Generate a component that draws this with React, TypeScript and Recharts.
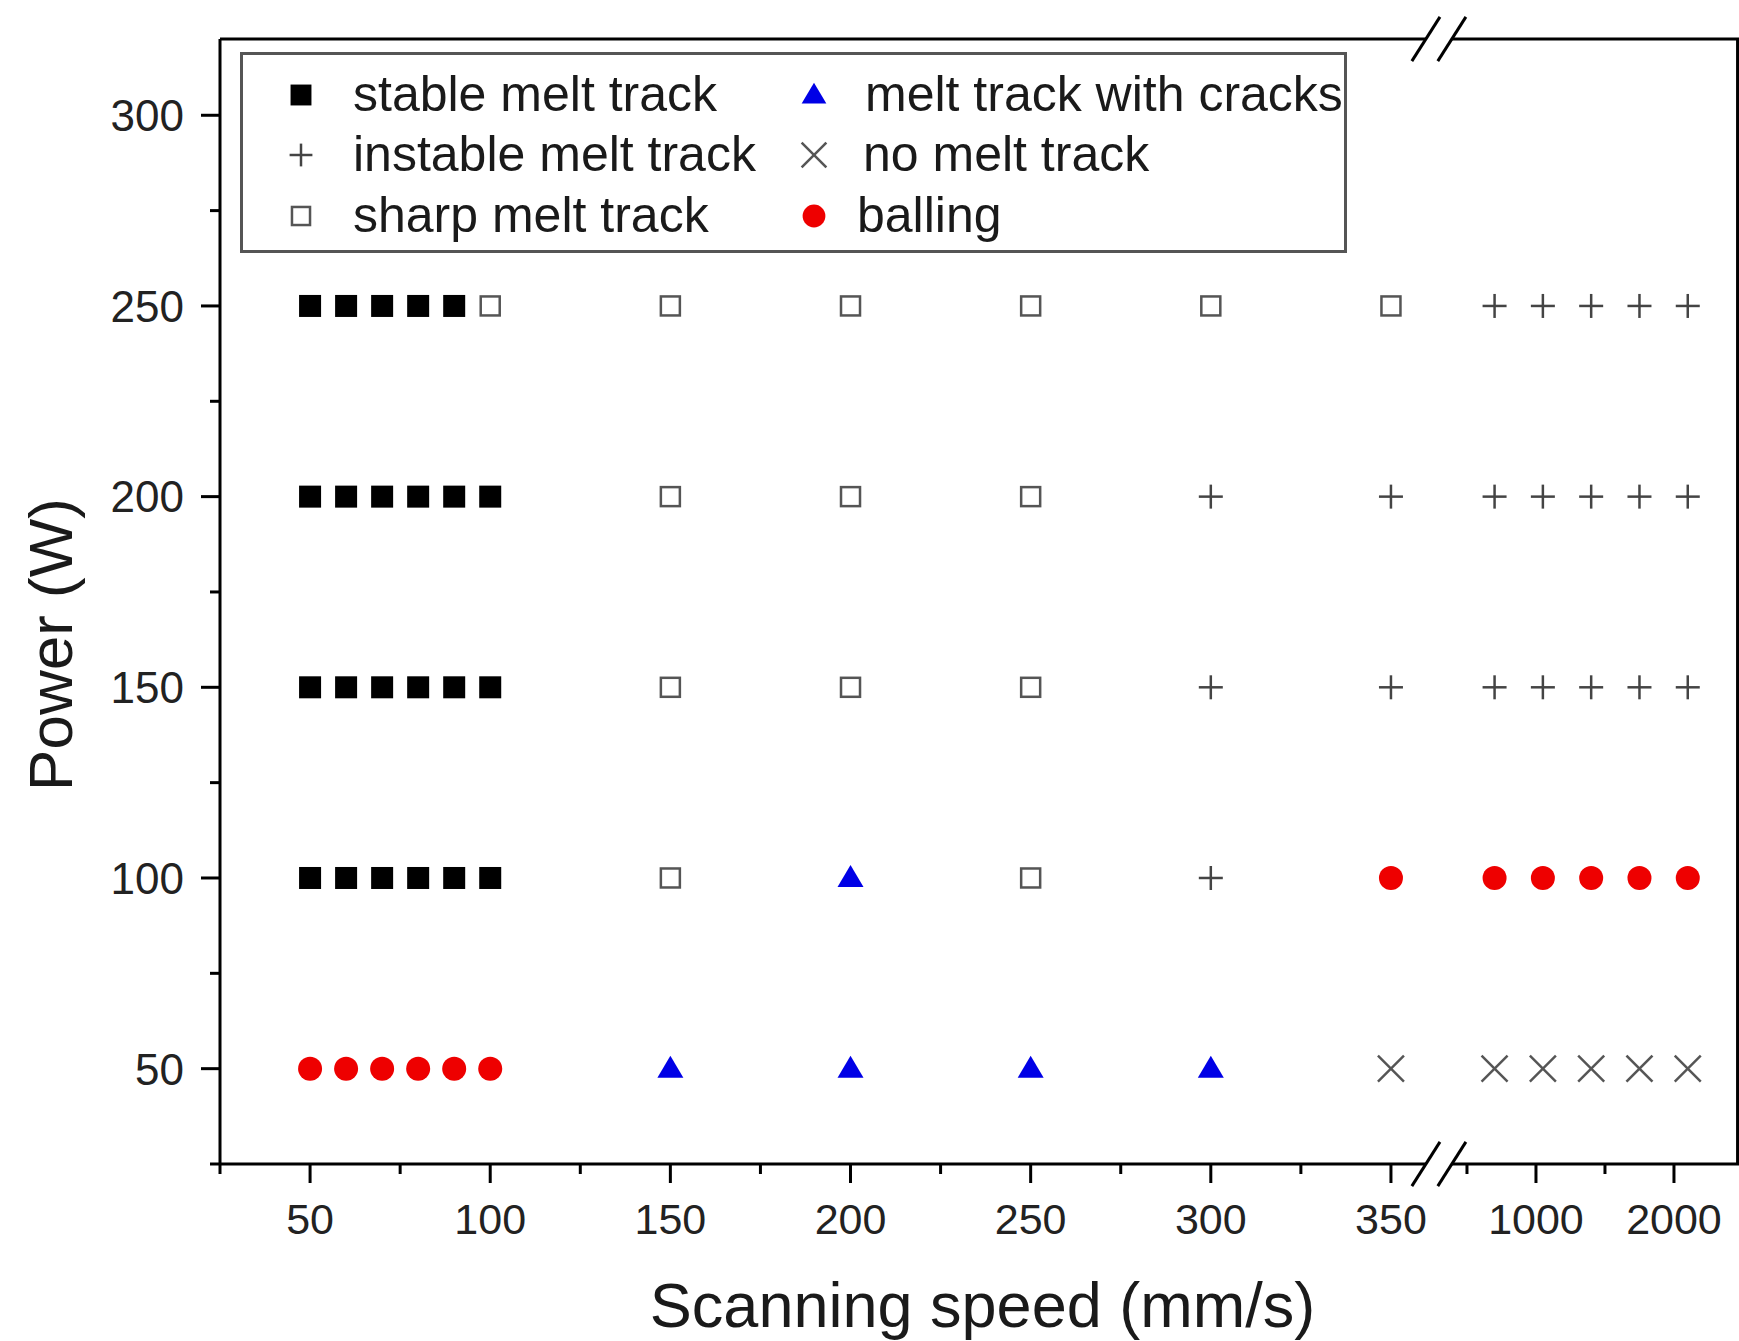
import React from 'react';
import { ScatterChart, Scatter, XAxis, YAxis, Legend, ReferenceLine } from 'recharts';

const FONT = '"Liberation Sans", Arial, Helvetica, sans-serif';

// x axis is broken: values up to 360 are linear, values past the break are squeezed
const BREAK_LOW = 359.7;
const BREAK_HIGH = 366.9;
const SEG2_ANCHOR = 1000;
const SEG2_POS = 390.25;
const SEG2_RATIO = 0.0383;
const toPos = (v: number) => (v <= 360 ? v : SEG2_POS + (v - SEG2_ANCHOR) * SEG2_RATIO);

const X_MIN = 25;
const X_MAX = 446.6;
const Y_MIN = 25;
const Y_MAX = 320;

const xMajor = [50, 100, 150, 200, 250, 300, 350, 1000, 2000];
const xMinor = [25, 75, 125, 175, 225, 275, 325, 500, 1500];
const yMajor = [50, 100, 150, 200, 250, 300];
const yMinor = [25, 75, 125, 175, 225, 275];

// [speed (mm/s), power (W)]
const stableTrack = [
    [50, 250], [60, 250], [70, 250], [80, 250], [90, 250],
    [50, 200], [60, 200], [70, 200], [80, 200], [90, 200], [100, 200],
    [50, 150], [60, 150], [70, 150], [80, 150], [90, 150], [100, 150],
    [50, 100], [60, 100], [70, 100], [80, 100], [90, 100], [100, 100],
];
const instableTrack = [
    [700, 250], [1050, 250], [1400, 250], [1750, 250], [2100, 250],
    [300, 200], [350, 200], [700, 200], [1050, 200], [1400, 200], [1750, 200], [2100, 200],
    [300, 150], [350, 150], [700, 150], [1050, 150], [1400, 150], [1750, 150], [2100, 150],
    [300, 100],
];
const sharpTrack = [
    [100, 250], [150, 250], [200, 250], [250, 250], [300, 250], [350, 250],
    [150, 200], [200, 200], [250, 200],
    [150, 150], [200, 150], [250, 150],
    [150, 100], [250, 100],
];
const crackedTrack = [
    [200, 100],
    [150, 50], [200, 50], [250, 50], [300, 50],
];
const noTrack = [
    [350, 50], [700, 50], [1050, 50], [1400, 50], [1750, 50], [2100, 50],
];
const balling = [
    [350, 100], [700, 100], [1050, 100], [1400, 100], [1750, 100], [2100, 100],
    [50, 50], [60, 50], [70, 50], [80, 50], [90, 50], [100, 50],
];

const toPoints = (list: number[][]) => list.map(([speed, power]) => ({ speed, power, pos: toPos(speed) }));

type Kind = 'filledSquare' | 'plus' | 'openSquare' | 'triangle' | 'cross' | 'circle';

const series: { name: string; kind: Kind; data: number[][] }[] = [
    { name: 'stable melt track', kind: 'filledSquare', data: stableTrack },
    { name: 'instable melt track', kind: 'plus', data: instableTrack },
    { name: 'sharp melt track', kind: 'openSquare', data: sharpTrack },
    { name: 'melt track with cracks', kind: 'triangle', data: crackedTrack },
    { name: 'no melt track', kind: 'cross', data: noTrack },
    { name: 'balling', kind: 'circle', data: balling },
];

function Marker({ kind, cx, cy, s = 1 }: { kind: Kind; cx: number; cy: number; s?: number }) {
    switch (kind) {
        case 'filledSquare':
            return <rect x={cx - 11 * s} y={cy - 11 * s} width={22 * s} height={22 * s} fill="#000" />;
        case 'openSquare':
            return <rect x={cx - 9.5 * s} y={cy - 9.5 * s} width={19 * s} height={19 * s} fill="#fff" stroke="#555" strokeWidth={2.5} />;
        case 'plus':
            return (
                <g stroke="#444" strokeWidth={2.5}>
                    <line x1={cx - 12 * s} x2={cx + 12 * s} y1={cy} y2={cy} />
                    <line x1={cx} x2={cx} y1={cy - 12 * s} y2={cy + 12 * s} />
                </g>
            );
        case 'cross':
            return (
                <g stroke="#555" strokeWidth={2.5}>
                    <line x1={cx - 13 * s} x2={cx + 13 * s} y1={cy - 13 * s} y2={cy + 13 * s} />
                    <line x1={cx - 13 * s} x2={cx + 13 * s} y1={cy + 13 * s} y2={cy - 13 * s} />
                </g>
            );
        case 'triangle':
            return <polygon points={`${cx},${cy - 13 * s} ${cx + 13 * s},${cy + 9 * s} ${cx - 13 * s},${cy + 9 * s}`} fill="#0000e6" />;
        case 'circle':
            return <circle cx={cx} cy={cy} r={12 * s} fill="#ee0000" />;
    }
    return null;
}

function XTick({ x, y, payload }: any) {
    const v = payload.value as number;
    const raw = xMajor.find((m) => Math.abs(toPos(m) - v) < 0.01);
    const len = raw !== undefined ? 19 : 10;
    return (
        <g>
            <line x1={x} x2={x} y1={y} y2={y + len} stroke="#000" strokeWidth={3} />
            {raw !== undefined && (
                <text x={x} y={y + 70} textAnchor="middle" fontSize={43} fill="#222" fontFamily={FONT}>
                    {raw}
                </text>
            )}
        </g>
    );
}

function YTick({ x, y, payload }: any) {
    const v = payload.value as number;
    const major = yMajor.includes(v);
    const len = major ? 19 : 10;
    return (
        <g>
            <line x1={x - len} x2={x} y1={y} y2={y} stroke="#000" strokeWidth={3} />
            {major && (
                <text x={x - 36} y={y} dy="0.36em" textAnchor="end" fontSize={44} fill="#222" fontFamily={FONT}>
                    {v}
                </text>
            )}
        </g>
    );
}

// two columns of three, in series order
const legendSlots = [
    { sx: 58, tx: 110, cy: 40 },
    { sx: 58, tx: 110, cy: 100 },
    { sx: 58, tx: 110, cy: 161 },
    { sx: 571, tx: 622, cy: 40 },
    { sx: 571, tx: 620, cy: 100 },
    { sx: 571, tx: 614, cy: 161 },
];

function LegendBox({ payload }: any) {
    const items = (payload || []) as { value: string }[];
    return (
        <div
            style={{
                position: 'relative',
                width: 1107,
                height: 201,
                boxSizing: 'border-box',
                border: '3px solid #555',
                background: '#fff',
                fontFamily: FONT,
            }}
        >
            {items.map((item) => {
                const idx = series.findIndex((d) => d.name === item.value);
                const slot = legendSlots[idx];
                const s = series[idx];
                if (!slot || !s) return null;
                return (
                    <React.Fragment key={item.value}>
                        <svg
                            width={40}
                            height={40}
                            style={{ position: 'absolute', left: slot.sx - 20, top: slot.cy - 20 }}
                        >
                            <Marker kind={s.kind} cx={20} cy={20} s={0.95} />
                        </svg>
                        <span
                            style={{
                                position: 'absolute',
                                left: slot.tx,
                                top: slot.cy - 30,
                                fontSize: 50,
                                lineHeight: '58px',
                                color: '#1a1a1a',
                                whiteSpace: 'nowrap',
                            }}
                        >
                            {item.value}
                        </span>
                    </React.Fragment>
                );
            })}
        </div>
    );
}

const frameSegments = [
    [{ x: X_MIN, y: Y_MAX }, { x: BREAK_LOW, y: Y_MAX }],
    [{ x: BREAK_HIGH, y: Y_MAX }, { x: X_MAX, y: Y_MAX }],
    [{ x: X_MIN, y: Y_MIN }, { x: BREAK_LOW, y: Y_MIN }],
    [{ x: BREAK_HIGH, y: Y_MIN }, { x: X_MAX, y: Y_MIN }],
    [{ x: X_MAX - 0.4, y: Y_MIN }, { x: X_MAX - 0.4, y: Y_MAX }],
];

const slashSegments = [Y_MIN, Y_MAX].flatMap((yy) =>
    [BREAK_LOW, BREAK_HIGH].map((xx) => [
        { x: xx - 3.9, y: yy - 5.8 },
        { x: xx + 3.9, y: yy + 5.8 },
    ])
);

export default function App() {
    const xTicks = [...xMinor, ...xMajor].map(toPos).sort((a, b) => a - b);
    const yTicks = [...yMinor, ...yMajor].sort((a, b) => a - b);

    return (
        <div style={{ position: 'absolute', left: 0, top: 0, width: 1739, height: 1341, background: '#fff' }}>
            <ScatterChart width={1739} height={1341} margin={{ top: 39, right: 0, bottom: 0, left: 0 }}>
                <XAxis
                    type="number"
                    dataKey="pos"
                    domain={[X_MIN, X_MAX]}
                    ticks={xTicks}
                    interval={0}
                    allowDataOverflow
                    axisLine={false}
                    tickLine={false}
                    tickSize={0}
                    tickMargin={0}
                    height={177}
                    tick={<XTick />}
                    label={{
                        content: ({ viewBox }: any) => (
                            <text
                                x={viewBox.x + viewBox.width / 2 + 3}
                                y={viewBox.y + 163}
                                textAnchor="middle"
                                fontSize={63}
                                fill="#1a1a1a"
                                fontFamily={FONT}
                            >
                                Scanning speed (mm/s)
                            </text>
                        ),
                    }}
                />
                <YAxis
                    type="number"
                    dataKey="power"
                    domain={[Y_MIN, Y_MAX]}
                    ticks={yTicks}
                    interval={0}
                    allowDataOverflow
                    axisLine={{ stroke: '#000', strokeWidth: 3 }}
                    tickLine={false}
                    tickSize={0}
                    tickMargin={0}
                    width={220}
                    tick={<YTick />}
                    label={{
                        content: ({ viewBox }: any) => {
                            const cx = viewBox.x + 50;
                            const cy = viewBox.y + viewBox.height / 2 + 43;
                            return (
                                <text
                                    x={cx}
                                    y={cy}
                                    transform={`rotate(-90 ${cx} ${cy})`}
                                    textAnchor="middle"
                                    dominantBaseline="central"
                                    fontSize={62}
                                    fill="#1a1a1a"
                                    fontFamily={FONT}
                                >
                                    Power (W)
                                </text>
                            );
                        },
                    }}
                />
                {frameSegments.map((seg, i) => (
                    <ReferenceLine key={`f${i}`} segment={seg} stroke="#000" strokeWidth={3} ifOverflow="visible" />
                ))}
                {slashSegments.map((seg, i) => (
                    <ReferenceLine key={`s${i}`} segment={seg} stroke="#000" strokeWidth={3} ifOverflow="visible" />
                ))}
                {series.map((s) => (
                    <Scatter
                        key={s.name}
                        name={s.name}
                        data={toPoints(s.data)}
                        isAnimationActive={false}
                        shape={(p: any) => <Marker kind={s.kind} cx={p.cx} cy={p.cy} />}
                    />
                ))}
                <Legend
                    layout="vertical"
                    align="center"
                    verticalAlign="middle"
                    content={<LegendBox />}
                    wrapperStyle={{ left: 240, top: 52, width: 1107, height: 201 }}
                />
            </ScatterChart>
        </div>
    );
}
